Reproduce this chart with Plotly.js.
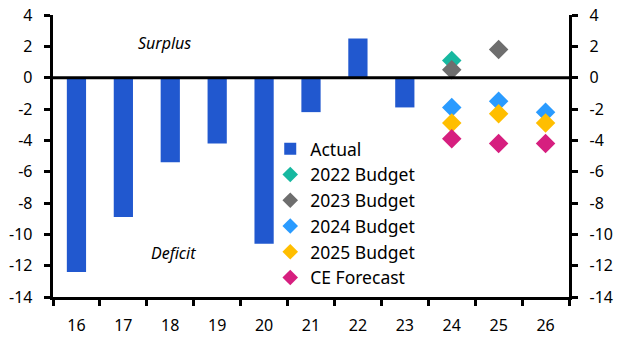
<!DOCTYPE html>
<html>
<head>
<meta charset="utf-8">
<script src="https://cdn.plot.ly/plotly-3.0.1.min.js"></script>
<style>html,body{margin:0;padding:0;background:#fff;}#chart{width:622px;height:338px;}</style>
</head>
<body>
<div id="chart"></div>
<script>
const years = ['16','17','18','19','20','21','22','23','24','25','26'];
const actualYears = ['16','17','18','19','20','21','22','23'];
const actual = [-12.4, -8.9, -5.4, -4.2, -10.6, -2.2, 2.5, -1.9];
const budget2022Years = ['24'];
const budget2022 = [1.1];
const budget2023Years = ['24','25'];
const budget2023 = [0.5, 1.8];
const forecastYears = ['24','25','26'];
const budget2024 = [-1.9, -1.5, -2.2];
const budget2025 = [-2.9, -2.3, -2.9];
const ceForecast = [-3.9, -4.2, -4.2];
const yTicks = [4, 2, 0, -2, -4, -6, -8, -10, -12, -14];

const font = {family: 'Noto Sans, Open Sans, sans-serif', size: 16, color: '#000'};
const mk = (c) => ({symbol: 'diamond', size: 15, color: c, line: {width: 0}});
const pad = '\u00a0\u00a0';

const traces = [
  {type: 'bar', name: 'Actual', x: actualYears, y: actual, marker: {color: '#2158CF'}, width: 0.41},
  {type: 'scatter', mode: 'markers', name: '2022 Budget', x: budget2022Years, y: budget2022, marker: mk('#17B8A0')},
  {type: 'scatter', mode: 'markers', name: '2023 Budget', x: budget2023Years, y: budget2023, marker: mk('#6E6E6E')},
  {type: 'scatter', mode: 'markers', name: '2024 Budget', x: forecastYears, y: budget2024, marker: mk('#2A9BFF')},
  {type: 'scatter', mode: 'markers', name: '2025 Budget', x: forecastYears, y: budget2025, marker: mk('#FFBE00')},
  {type: 'scatter', mode: 'markers', name: 'CE Forecast', x: forecastYears, y: ceForecast, marker: mk('#D61F7F')},
  {type: 'scatter', mode: 'markers', x: years, y: years.map(() => null), yaxis: 'y2', showlegend: false, hoverinfo: 'skip'}
];

const yax = {
  range: [-14, 4], tickvals: yTicks,
  showgrid: false, zeroline: false, showline: true, linecolor: '#000', linewidth: 3,
  ticks: 'outside', ticklen: 6, tickwidth: 3, tickcolor: '#000', tickfont: font, fixedrange: true
};

const layout = {
  width: 622, height: 338,
  margin: {l: 53, r: 53, t: 15, b: 41},
  paper_bgcolor: '#fff', plot_bgcolor: '#fff',
  font: font,
  showlegend: true,
  legend: {x: 0.421, y: 0.589, xanchor: 'left', yanchor: 'top', bgcolor: 'rgba(0,0,0,0)', font: {family: font.family, size: 17.5, color: '#000'}, itemwidth: 30, itemsizing: 'constant', tracegroupgap: 0},
  xaxis: {
    type: 'category', categoryorder: 'array', categoryarray: years, range: [-0.5, 10.5],
    tickson: 'boundaries', ticks: 'outside', ticklen: 6, tickwidth: 3, tickcolor: '#000',
    showline: true, linecolor: '#000', linewidth: 3, showgrid: false, zeroline: false, tickfont: font,
    ticklabelstandoff: 12
  },
  yaxis: Object.assign({}, yax, {side: 'left', ticktext: yTicks.map(v => String(v) + pad)}),
  yaxis2: Object.assign({}, yax, {side: 'right', overlaying: 'y', ticktext: yTicks.map(v => pad + String(v))}),
  shapes: [{type: 'line', xref: 'paper', x0: 0, x1: 1, yref: 'y', y0: 0, y1: 0, line: {color: '#000', width: 3}}],
  annotations: [
    {text: 'Surplus', x: 2, y: 2.2, xref: 'x', yref: 'y', showarrow: false, font: {family: font.family, size: 16, color: '#000', style: 'italic'}, xshift: -6},
    {text: 'Deficit', x: 2, y: -11.2, xref: 'x', yref: 'y', showarrow: false, font: {family: font.family, size: 16, color: '#000', style: 'italic'}, xshift: 3}
  ]
};

Plotly.newPlot('chart', traces, layout, {displayModeBar: false, staticPlot: true});
</script>
</body>
</html>
